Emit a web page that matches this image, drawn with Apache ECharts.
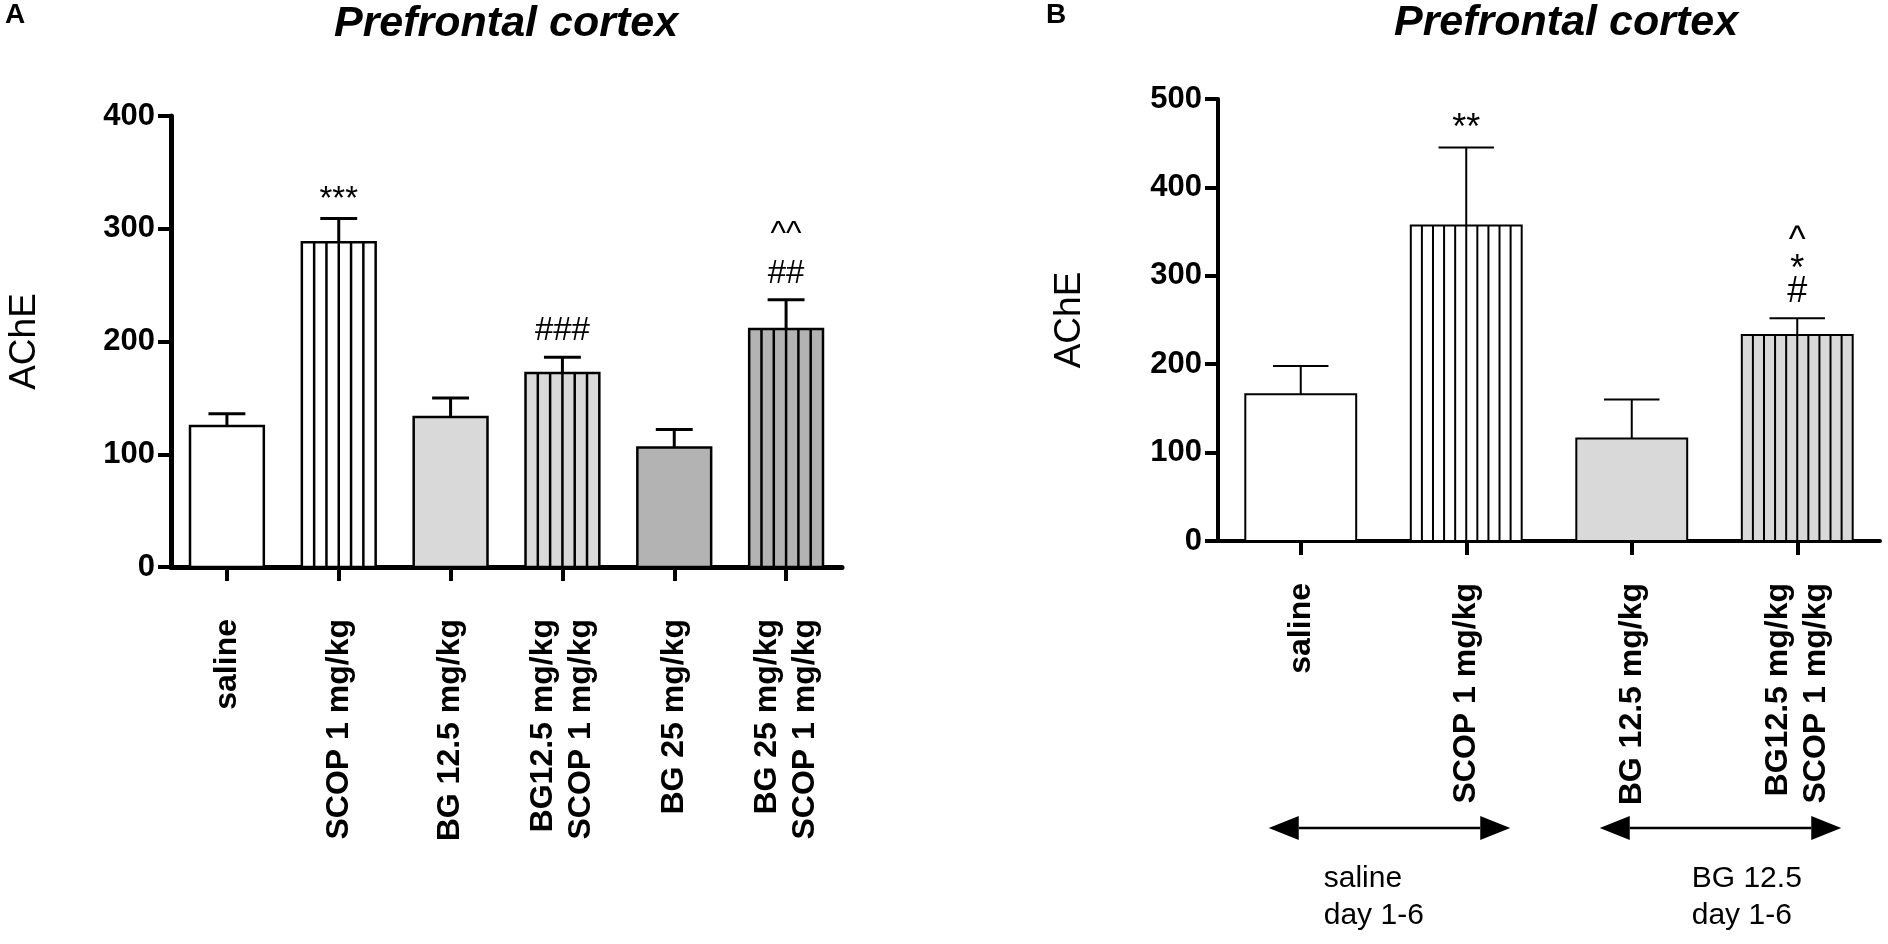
<!DOCTYPE html>
<html>
<head>
<meta charset="utf-8">
<script src="https://cdn.jsdelivr.net/npm/echarts@6/dist/echarts.min.js"></script>
<style>
html,body{margin:0;padding:0;background:#fff;}
#c{width:1888px;height:944px;}
</style>
</head>
<body>
<div id="c"></div>
<script>
// ---------- data (panel A) ----------
const categoriesA = ['saline', 'SCOP 1 mg/kg', 'BG 12.5 mg/kg', 'BG12.5 mg/kg\nSCOP 1 mg/kg', 'BG 25 mg/kg', 'BG 25 mg/kg\nSCOP 1 mg/kg'];
const meansA = [125, 288, 133, 172, 106, 211];
const semA = [11, 21, 17, 14, 16, 26];
const signifA = [[], ['***'], [], ['###'], [], ['##', '^^']];
const yMaxA = 400, yStepA = 100;

// ---------- data (panel B) ----------
const categoriesB = ['saline', 'SCOP 1 mg/kg', 'BG 12.5 mg/kg', 'BG12.5 mg/kg\nSCOP 1 mg/kg'];
const meansB = [166, 357, 116, 233];
const semB = [32, 88, 44, 19];
const signifB = [[], ['**'], [], ['#', '*', '^']];
const yMaxB = 500, yStepB = 100;
const groupsB = [
  {from: 'saline', to: 'SCOP 1 mg/kg', text: 'saline\nday 1-6'},
  {from: 'BG 12.5 mg/kg', to: 'BG12.5 mg/kg\nSCOP 1 mg/kg', text: 'BG 12.5\nday 1-6'}
];

// ---------- styles ----------
const fillA = ['#ffffff', '#ffffff', '#d9d9d9', '#d9d9d9', '#b3b3b3', '#b3b3b3'];
const hatchA = [false, true, false, true, false, true];
const fillB = ['#ffffff', '#ffffff', '#d9d9d9', '#d9d9d9'];
const hatchB = [false, true, false, true];
const FONT = '"Liberation Sans", Arial, Helvetica, sans-serif';

function makeRenderer(fills, hatch, cfg) {
  return function (params, api) {
    const i = params.dataIndex;
    const idx = api.value(0), v = api.value(1), e = api.value(2);
    const base = api.coord([idx, 0]);
    const top = api.coord([idx, v]);
    const errTop = api.coord([idx, v + e]);
    const bw = api.size([1, 0])[0] * cfg.barRatio;
    const left = top[0] - bw / 2;
    const ch = [];
    ch.push({type: 'rect', shape: {x: left, y: top[1], width: bw, height: base[1] - top[1]},
      style: {fill: fills[i], stroke: '#000', lineWidth: cfg.lw}});
    if (hatch[i]) {
      for (let k = 1; k < cfg.stripes; k++) {
        const xx = left + k * bw / cfg.stripes;
        ch.push({type: 'line', shape: {x1: xx, y1: top[1], x2: xx, y2: base[1]},
          style: {stroke: '#000', lineWidth: cfg.hlw}});
      }
    }
    ch.push({type: 'line', shape: {x1: top[0], y1: top[1], x2: top[0], y2: errTop[1]},
      style: {stroke: '#000', lineWidth: cfg.elw}});
    ch.push({type: 'line', shape: {x1: top[0] - bw / 4, y1: errTop[1], x2: top[0] + bw / 4, y2: errTop[1]},
      style: {stroke: '#000', lineWidth: cfg.elw}});
    const lines = cfg.signif[i];
    lines.forEach(function (t, k) {
      const shift = (t.indexOf('*') >= 0 || t.indexOf('^') >= 0) ? 7 : 0;
      ch.push({type: 'text', x: top[0], y: errTop[1] - cfg.gap - k * cfg.step + shift,
        style: {text: t, fill: '#000', fontSize: cfg.afs, fontFamily: FONT,
          align: 'center', verticalAlign: 'middle', textAlign: 'center', textVerticalAlign: 'middle'}});
    });
    return {type: 'group', children: ch};
  };
}

function xAxisCfg(grid, cats, axW, margin) {
  return {
    type: 'category', gridIndex: grid, data: cats, boundaryGap: true,
    axisLine: {show: true, lineStyle: {color: '#000', width: axW}},
    axisTick: {show: true, alignWithLabel: true, length: 14, interval: 0, lineStyle: {color: '#000', width: 4}},
    axisLabel: {interval: 0, rotate: 90, color: '#000', fontSize: 32, fontWeight: 'bold', fontFamily: FONT,
      margin: margin, lineHeight: 38},
    splitLine: {show: false}
  };
}
function yAxisCfg(grid, max, step, axW, fs, gap) {
  return {
    type: 'value', gridIndex: grid, min: 0, max: max, interval: step,
    name: 'AChE', nameLocation: 'middle', nameGap: gap,
    nameTextStyle: {fontSize: 37, color: '#000', fontFamily: FONT},
    axisLine: {show: true, lineStyle: {color: '#000', width: axW}},
    axisTick: {show: true, length: 13, lineStyle: {color: '#000', width: 4}},
    axisLabel: {color: '#000', fontSize: fs, fontWeight: 'bold', fontFamily: FONT, margin: 16},
    splitLine: {show: false}
  };
}

const chart = echarts.init(document.getElementById('c'), null, {renderer: 'canvas'});
const option = {
  backgroundColor: '#fff',
  animation: false,
  grid: [
    {left: 171, top: 116, width: 671, height: 451, containLabel: false},
    {left: 1218, top: 99, width: 662, height: 442, containLabel: false}
  ],
  xAxis: [xAxisCfg(0, categoriesA, 5, 52), xAxisCfg(1, categoriesB, 4, 42)],
  yAxis: [yAxisCfg(0, yMaxA, yStepA, 5, 31, 128), yAxisCfg(1, yMaxB, yStepB, 4, 31, 130)],
  series: [
    {type: 'custom', xAxisIndex: 0, yAxisIndex: 0, clip: false,
      renderItem: makeRenderer(fillA, hatchA, {barRatio: 0.66, stripes: 6, lw: 2.5, hlw: 2.5, elw: 3,
        signif: signifA, gap: 26, step: 46, afs: 33}),
      data: meansA.map(function (m, i) { return [i, m, semA[i]]; })},
    {type: 'custom', xAxisIndex: 1, yAxisIndex: 1, clip: false,
      renderItem: makeRenderer(fillB, hatchB, {barRatio: 0.67, stripes: 10, lw: 2, hlw: 2, elw: 2,
        signif: signifB, gap: 26, step: 29, afs: 36}),
      data: meansB.map(function (m, i) { return [i, m, semB[i]]; })}
  ]
};
chart.setOption(option);

// ---------- titles, panel letters, group arrows ----------
const g = [];
function txt(x, y, s, size, weight, style, align) {
  g.push({type: 'text', x: x, y: y, style: {text: s, fill: '#000', fontSize: size, fontWeight: weight,
    fontStyle: style, fontFamily: FONT, textAlign: align || 'center', textVerticalAlign: 'middle',
    align: align || 'center', verticalAlign: 'middle', lineHeight: 37}});
}
txt(15, 15, 'A', 28, 'bold', 'normal');
txt(1056, 15, 'B', 28, 'bold', 'normal');
txt(506, 24, 'Prefrontal cortex', 43, 'bold', 'italic');
txt(1566, 23, 'Prefrontal cortex', 43, 'bold', 'italic');

const arrowY = 828, headL = 30, headH = 12;
const textOffsets = [23, 60];
groupsB.forEach(function (grp, k) {
  const x1 = chart.convertToPixel({xAxisIndex: 1}, grp.from) - 32;
  const x2 = chart.convertToPixel({xAxisIndex: 1}, grp.to) + 44;
  g.push({type: 'line', shape: {x1: x1 + headL, y1: arrowY, x2: x2 - headL, y2: arrowY},
    style: {stroke: '#000', lineWidth: 2.5}});
  g.push({type: 'polygon', shape: {points: [[x1, arrowY], [x1 + headL, arrowY - headH], [x1 + headL, arrowY + headH]]},
    style: {fill: '#000'}});
  g.push({type: 'polygon', shape: {points: [[x2, arrowY], [x2 - headL, arrowY - headH], [x2 - headL, arrowY + headH]]},
    style: {fill: '#000'}});
  const tx = chart.convertToPixel({xAxisIndex: 1}, grp.from) + textOffsets[k];
  g.push({type: 'text', x: tx, y: 897, style: {text: grp.text, fill: '#000', fontSize: 30, fontFamily: FONT,
    textAlign: 'left', align: 'left', textVerticalAlign: 'middle', verticalAlign: 'middle', lineHeight: 37}});
});
chart.setOption({graphic: g});
</script>
</body>
</html>
